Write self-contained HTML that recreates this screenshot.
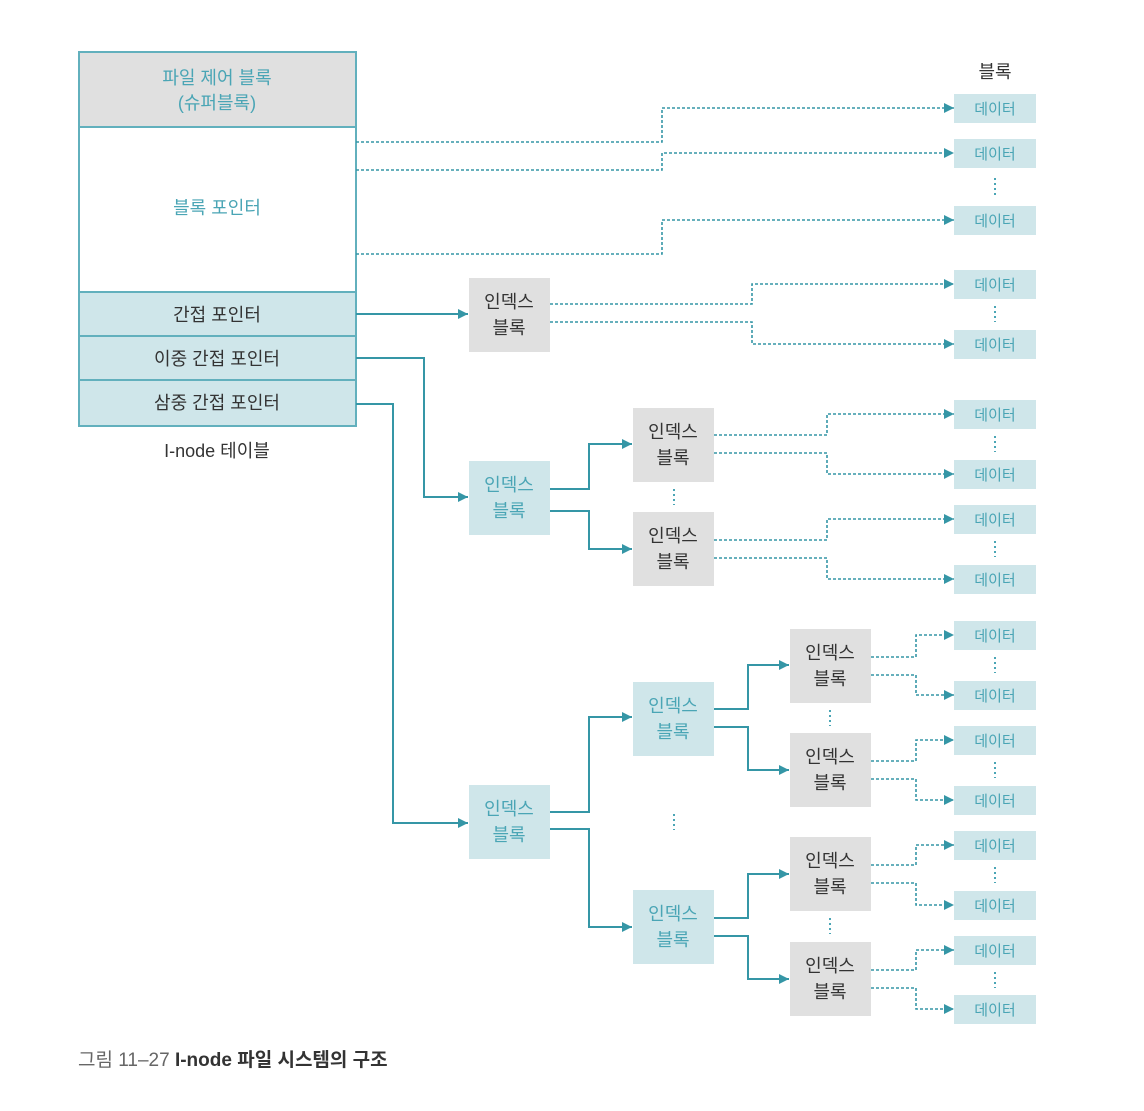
<!DOCTYPE html>
<html><head><meta charset="utf-8"><style>
html,body{margin:0;padding:0;background:#fff;}
svg text{font-family:"Liberation Sans","Noto Sans CJK KR",sans-serif;}
</style></head><body>
<svg width="1144" height="1106" viewBox="0 0 1144 1106" xmlns="http://www.w3.org/2000/svg">
<defs>
<marker id="a" viewBox="0 0 10 10" refX="10" refY="5" markerWidth="10" markerHeight="10" markerUnits="userSpaceOnUse" orient="auto"><path d="M0,0L10,5L0,10z" fill="#3596a6"/></marker>
</defs>
<!-- I-node table -->
<rect x="79" y="52" width="277" height="75" fill="#e0e0e0" stroke="#62b0bd" stroke-width="2"/>
<rect x="79" y="127" width="277" height="165" fill="#fff" stroke="#62b0bd" stroke-width="2"/>
<rect x="79" y="292" width="277" height="44" fill="#cfe6ea" stroke="#62b0bd" stroke-width="2"/>
<rect x="79" y="336" width="277" height="44" fill="#cfe6ea" stroke="#62b0bd" stroke-width="2"/>
<rect x="79" y="380" width="277" height="46" fill="#cfe6ea" stroke="#62b0bd" stroke-width="2"/>
<g font-size="18" text-anchor="middle">
<text x="217" y="84" fill="#4aa5b5">파일 제어 블록</text>
<text x="217" y="109" fill="#4aa5b5">(슈퍼블록)</text>
<text x="217" y="214" fill="#4aa5b5">블록 포인터</text>
<text x="217" y="321" fill="#333">간접 포인터</text>
<text x="217" y="365" fill="#333">이중 간접 포인터</text>
<text x="217" y="409" fill="#333">삼중 간접 포인터</text>
<text x="217" y="457" fill="#333">I-node 테이블</text>
<text x="995" y="78" fill="#333">블록</text>
</g>
<!-- data boxes -->
<g fill="#cfe6ea">
<rect x="954" y="94" width="82" height="29"/><rect x="954" y="139" width="82" height="29"/><rect x="954" y="206" width="82" height="29"/>
<rect x="954" y="270" width="82" height="29"/><rect x="954" y="330" width="82" height="29"/>
<rect x="954" y="400" width="82" height="29"/><rect x="954" y="460" width="82" height="29"/>
<rect x="954" y="505" width="82" height="29"/><rect x="954" y="565" width="82" height="29"/>
<rect x="954" y="621" width="82" height="29"/><rect x="954" y="681" width="82" height="29"/>
<rect x="954" y="726" width="82" height="29"/><rect x="954" y="786" width="82" height="29"/>
<rect x="954" y="831" width="82" height="29"/><rect x="954" y="891" width="82" height="29"/>
<rect x="954" y="936" width="82" height="29"/><rect x="954" y="995" width="82" height="29"/>
</g>
<g font-size="15" text-anchor="middle" fill="#4aa5b5">
<text x="995" y="114">데이터</text><text x="995" y="159">데이터</text><text x="995" y="226">데이터</text>
<text x="995" y="290">데이터</text><text x="995" y="350">데이터</text>
<text x="995" y="420">데이터</text><text x="995" y="480">데이터</text>
<text x="995" y="525">데이터</text><text x="995" y="585">데이터</text>
<text x="995" y="641">데이터</text><text x="995" y="701">데이터</text>
<text x="995" y="746">데이터</text><text x="995" y="806">데이터</text>
<text x="995" y="851">데이터</text><text x="995" y="911">데이터</text>
<text x="995" y="956">데이터</text><text x="995" y="1015">데이터</text>
</g>
<!-- vertical dots -->
<g stroke="#4aa5b5" stroke-width="2" stroke-dasharray="2,3">
<line x1="995" y1="178" x2="995" y2="196"/><line x1="995" y1="306" x2="995" y2="322"/>
<line x1="995" y1="436" x2="995" y2="452"/><line x1="995" y1="541" x2="995" y2="557"/>
<line x1="995" y1="657" x2="995" y2="673"/><line x1="995" y1="762" x2="995" y2="778"/>
<line x1="995" y1="867" x2="995" y2="883"/><line x1="995" y1="972" x2="995" y2="988"/>
<line x1="674" y1="489" x2="674" y2="505"/><line x1="830" y1="710" x2="830" y2="726"/>
<line x1="830" y1="918" x2="830" y2="934"/><line x1="674" y1="814" x2="674" y2="830"/>
</g>
<!-- index blocks -->
<g>
<rect x="469" y="278" width="81" height="74" fill="#e0e0e0"/>
<rect x="469" y="461" width="81" height="74" fill="#cfe6ea"/>
<rect x="633" y="408" width="81" height="74" fill="#e0e0e0"/>
<rect x="633" y="512" width="81" height="74" fill="#e0e0e0"/>
<rect x="469" y="785" width="81" height="74" fill="#cfe6ea"/>
<rect x="633" y="682" width="81" height="74" fill="#cfe6ea"/>
<rect x="633" y="890" width="81" height="74" fill="#cfe6ea"/>
<rect x="790" y="629" width="81" height="74" fill="#e0e0e0"/>
<rect x="790" y="733" width="81" height="74" fill="#e0e0e0"/>
<rect x="790" y="837" width="81" height="74" fill="#e0e0e0"/>
<rect x="790" y="942" width="81" height="74" fill="#e0e0e0"/>
</g>
<g font-size="18" text-anchor="middle">
<g fill="#333">
<text x="509" y="308">인덱스</text><text x="509" y="334">블록</text>
<text x="673" y="438">인덱스</text><text x="673" y="464">블록</text>
<text x="673" y="542">인덱스</text><text x="673" y="568">블록</text>
<text x="830" y="659">인덱스</text><text x="830" y="685">블록</text>
<text x="830" y="763">인덱스</text><text x="830" y="789">블록</text>
<text x="830" y="867">인덱스</text><text x="830" y="893">블록</text>
<text x="830" y="972">인덱스</text><text x="830" y="998">블록</text>
</g>
<g fill="#4aa5b5">
<text x="509" y="491">인덱스</text><text x="509" y="517">블록</text>
<text x="509" y="815">인덱스</text><text x="509" y="841">블록</text>
<text x="673" y="712">인덱스</text><text x="673" y="738">블록</text>
<text x="673" y="920">인덱스</text><text x="673" y="946">블록</text>
</g>
</g>
<!-- dashed connectors -->
<g fill="none" stroke="#3596a6" stroke-width="1.6" stroke-dasharray="3,2" marker-end="url(#a)">
<path d="M356,142H662V108H954"/><path d="M356,170H662V153H954"/><path d="M356,254H662V220H954"/>
<path d="M550,304H752V284H954"/><path d="M550,322H752V344H954"/>
<path d="M714,435H827V414H954"/><path d="M714,453H827V474H954"/>
<path d="M714,540H827V519H954"/><path d="M714,558H827V579H954"/>
<path d="M871,657H916V635H954"/><path d="M871,675H916V695H954"/>
<path d="M871,761H916V740H954"/><path d="M871,779H916V800H954"/>
<path d="M871,865H916V845H954"/><path d="M871,883H916V905H954"/>
<path d="M871,970H916V950H954"/><path d="M871,988H916V1009H954"/>
</g>
<!-- solid connectors -->
<g fill="none" stroke="#3596a6" stroke-width="2" marker-end="url(#a)">
<path d="M356,314H468"/>
<path d="M356,358H424V497H468"/>
<path d="M356,404H393V823H468"/>
<path d="M550,489H589V444H632"/><path d="M550,511H589V549H632"/>
<path d="M550,812H589V717H632"/><path d="M550,829H589V927H632"/>
<path d="M714,709H748V665H789"/><path d="M714,727H748V770H789"/>
<path d="M714,918H748V874H789"/><path d="M714,936H748V979H789"/>
</g>
<text x="78" y="1066" font-size="19"><tspan fill="#666">그림 11–27 </tspan><tspan fill="#333" font-weight="bold">I-node 파일 시스템의 구조</tspan></text>
</svg>
</body></html>
